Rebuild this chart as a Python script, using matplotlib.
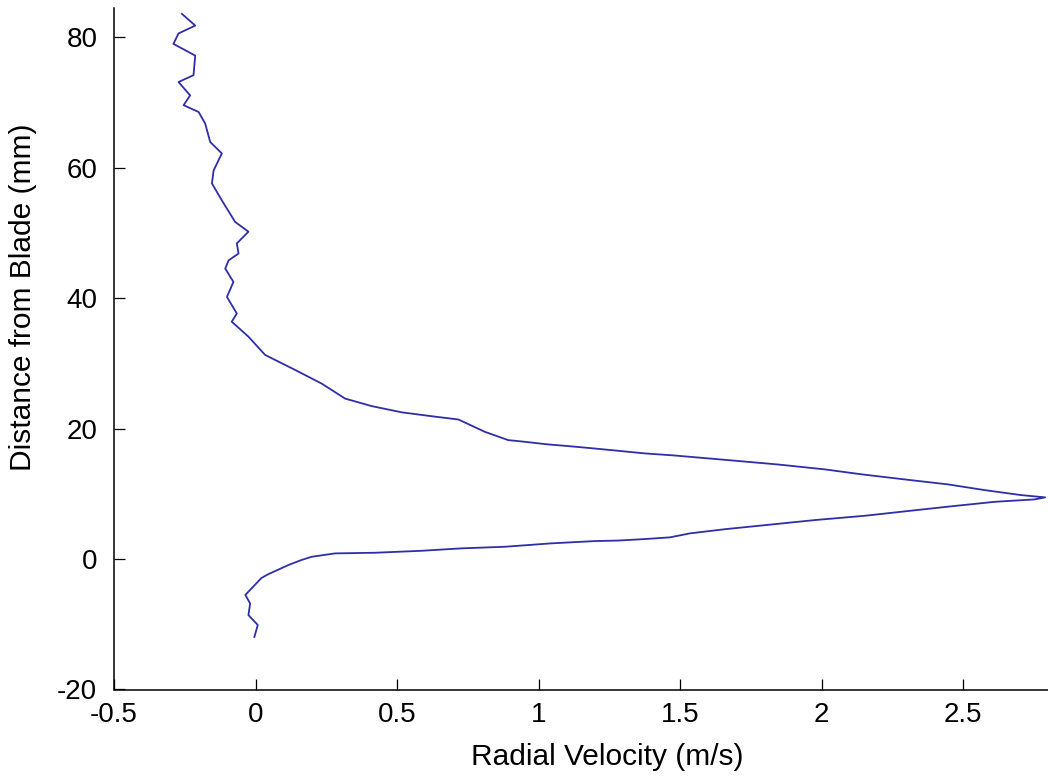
import matplotlib
matplotlib.use("Agg")
import matplotlib.pyplot as plt
from matplotlib import font_manager

# Radial velocity (m/s) vs distance from blade (mm), traced bottom to top
velocity = [
    -0.004, 0.008, -0.025, -0.019, -0.036, -0.025, 0.021, 0.046, 0.117, 0.162,
    0.198, 0.281, 0.423, 0.586, 0.727, 0.882, 1.045, 1.200, 1.282, 1.376,
    1.464, 1.535, 1.663, 1.800, 1.976, 2.153, 2.312, 2.465, 2.612, 2.753,
    2.790,
    2.705, 2.577, 2.447, 2.316, 2.140, 2.012, 1.847, 1.663, 1.476, 1.376,
    1.282, 1.194, 1.111, 1.029, 0.952, 0.893, 0.811, 0.717, 0.623, 0.517,
    0.411, 0.317, 0.234, 0.140, 0.034, -0.025, -0.084, -0.066, -0.101, -0.078,
    -0.107, -0.095, -0.060, -0.066, -0.025, -0.072, -0.119, -0.154, -0.148,
    -0.119, -0.160, -0.178, -0.201, -0.254, -0.231, -0.272, -0.219, -0.213,
    -0.290, -0.272, -0.213, -0.260,
]
distance = [
    -11.95, -10.1, -8.6, -6.8, -5.5, -5.0, -2.9, -2.3, -0.9, -0.15,
    0.35, 0.87, 0.97, 1.27, 1.64, 1.89, 2.41, 2.76, 2.84, 3.07,
    3.33, 3.94, 4.6, 5.2, 5.98, 6.64, 7.4, 8.12, 8.78, 9.15,
    9.46,
    9.81, 10.57, 11.45, 12.1, 13.0, 13.75, 14.5, 15.2, 15.9, 16.2,
    16.6, 16.97, 17.3, 17.6, 17.98, 18.24, 19.5, 21.4, 21.9, 22.5,
    23.45, 24.6, 26.9, 29.0, 31.3, 34.1, 36.4, 37.65, 40.2, 42.5,
    44.55, 45.8, 46.85, 48.4, 50.2, 51.7, 55.0, 57.6, 59.6,
    62.2, 63.95, 66.8, 68.55, 69.6, 71.1, 73.15, 74.2, 77.2,
    79.0, 80.6, 81.8, 83.6,
]

x_ticks = [-0.5, 0, 0.5, 1, 1.5, 2, 2.5]
x_tick_labels = ["-0.5", "0", "0.5", "1", "1.5", "2", "2.5"]
y_ticks = [-20, 0, 20, 40, 60, 80]
y_tick_labels = ["-20", "0", "20", "40", "60", "80"]

available = {f.name for f in font_manager.fontManager.ttflist}
fam = [f for f in ["Liberation Sans Narrow", "Liberation Sans", "DejaVu Sans"] if f in available]
plt.rcParams["font.family"] = fam

fig = plt.figure(figsize=(10.48, 7.76), dpi=100)
ax = fig.add_axes([114 / 1048, 1 - 689.5 / 776, 1 - 114 / 1048, (689.5 - 8) / 776])

ax.plot(velocity, distance, color="#2e2ea8", linewidth=1.3)

ax.set_xlim(-0.5, 2.8)
ax.set_ylim(-20, 84.5)
ax.set_xticks(x_ticks)
ax.set_xticklabels(x_tick_labels)
ax.set_yticks(y_ticks)
ax.set_yticklabels(y_tick_labels)

for s in ["top", "right"]:
    ax.spines[s].set_visible(False)
for s in ["left", "bottom"]:
    ax.spines[s].set_linewidth(1.1)
    ax.spines[s].set_color("black")

ax.tick_params(direction="in", length=8, width=0.9, labelsize=20, colors="black")
ax.tick_params(axis="y", pad=12)
ax.tick_params(axis="x", pad=9)

ax.set_xlabel("Radial Velocity (m/s)", fontsize=21.5)
ax.set_ylabel("Distance from Blade (mm)", fontsize=21.5)
ax.xaxis.set_label_coords(0.528, -0.079)
ax.yaxis.set_label_coords(-0.082, 0.576)

fig.savefig("out.png", dpi=100, facecolor="white")
